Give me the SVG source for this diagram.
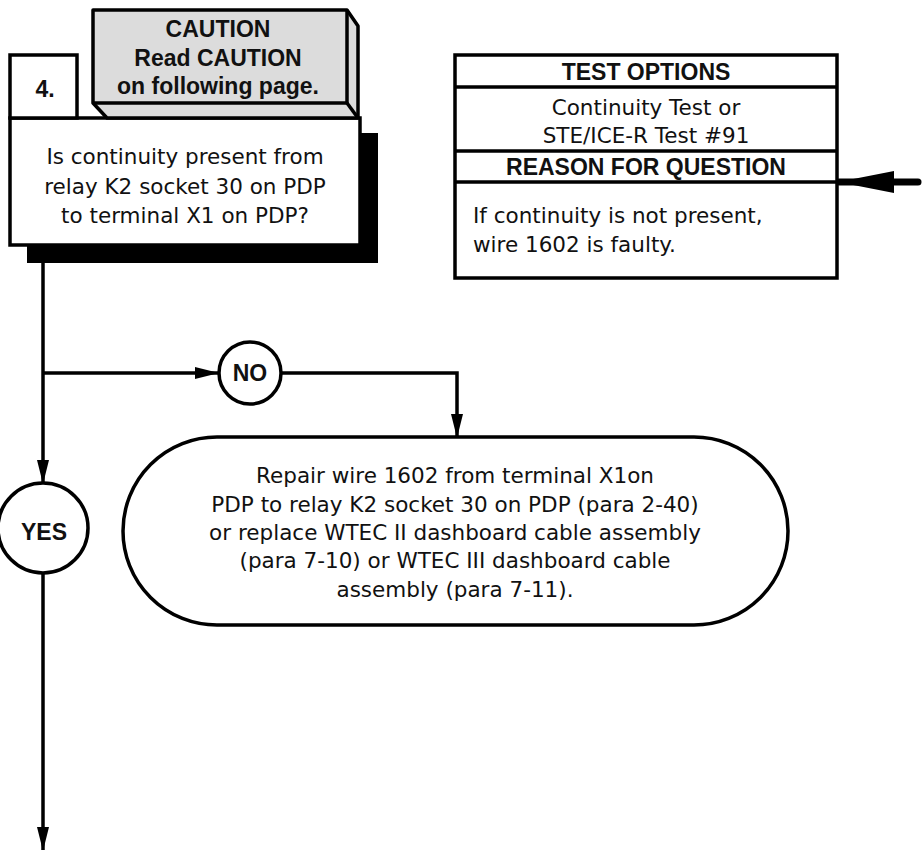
<svg xmlns="http://www.w3.org/2000/svg" width="922" height="850" viewBox="0 0 922 850">
<defs>
<style>
.t{font-family:"DejaVu Sans","Liberation Sans",Arial,sans-serif;font-size:21.5px;fill:#111;}
.b{font-family:"Liberation Sans",Arial,sans-serif;font-size:23px;font-weight:bold;fill:#111;}
.m{text-anchor:middle;}
.box{fill:#fff;stroke:#000;stroke-width:3.5;}
.ln{fill:none;stroke:#000;stroke-width:3.5;}
</style>
<marker id="ah" markerWidth="24" markerHeight="12" refX="23" refY="6" orient="auto" markerUnits="userSpaceOnUse">
<path d="M0,0 L24,6 L0,12 Z" fill="#000"/>
</marker>
<marker id="ahb" markerWidth="56" markerHeight="24" refX="55" refY="12" orient="auto" markerUnits="userSpaceOnUse">
<path d="M0,1 L56,12 L0,23 Z" fill="#000"/>
</marker>
</defs>
<g id="connectors">
<line class="ln" x1="43" y1="263" x2="43" y2="483" marker-end="url(#ah)"/>
<line class="ln" x1="43" y1="573" x2="43" y2="850" marker-end="url(#ah)"/>
<line class="ln" x1="43" y1="373" x2="218" y2="373" marker-end="url(#ah)"/>
<polyline class="ln" points="281,373 457,373 457,437" marker-end="url(#ah)"/>
<line x1="918" y1="182" x2="839" y2="182" stroke="#000" stroke-width="7" stroke-linecap="round" marker-end="url(#ahb)"/>
</g>
<g id="step4">
<rect x="27" y="133" width="351" height="130" fill="#000"/>
<rect class="box" x="10" y="118" width="350" height="127"/>
<text class="t m" x="185" y="164">Is continuity present from</text>
<text class="t m" x="185" y="194">relay K2 socket 30 on PDP</text>
<text class="t m" x="185" y="223">to terminal X1 on PDP?</text>
</g>
<g id="num">
<rect class="box" x="10" y="55" width="67" height="63"/>
<text class="b m" x="45" y="97">4.</text>
</g>
<g id="caution">
<polygon points="93,10 347,10 358,26 358,118 107,118 93,103" fill="#dcdcdc" stroke="#000" stroke-width="3.5" stroke-linejoin="round"/>
<polyline points="93,103 347,103 347,10" fill="none" stroke="#000" stroke-width="3.5"/>
<line x1="347" y1="103" x2="358" y2="118" stroke="#000" stroke-width="3.5"/>
<text class="b m" x="218" y="37">CAUTION</text>
<text class="b m" x="218" y="66">Read CAUTION</text>
<text class="b m" x="218" y="94">on following page.</text>
</g>
<g id="test-options">
<rect class="box" x="455" y="55" width="382" height="223"/>
<line class="ln" x1="455" y1="87" x2="837" y2="87"/>
<line class="ln" x1="455" y1="151" x2="837" y2="151"/>
<line class="ln" x1="455" y1="182" x2="837" y2="182"/>
<text class="b m" x="646" y="80">TEST OPTIONS</text>
<text class="t m" x="646" y="115">Continuity Test or</text>
<text class="t m" x="646" y="143">STE/ICE-R Test #91</text>
<text class="b m" x="646" y="175">REASON FOR QUESTION</text>
<text class="t" x="473" y="223">If continuity is not present,</text>
<text class="t" x="473" y="252">wire 1602 is faulty.</text>
</g>
<g id="no">
<circle cx="250" cy="373" r="31" fill="#fff" stroke="#000" stroke-width="3.5"/>
<text class="b m" x="250" y="381">NO</text>
</g>
<g id="yes">
<circle cx="43" cy="528" r="45" fill="#fff" stroke="#000" stroke-width="3.5"/>
<text class="b m" x="44" y="540">YES</text>
</g>
<g id="repair">
<rect class="box" x="123" y="437" width="665" height="188" rx="94" ry="94"/>
<text class="t m" x="455" y="483">Repair wire 1602 from terminal X1on</text>
<text class="t m" x="455" y="512">PDP to relay K2 socket 30 on PDP (para 2-40)</text>
<text class="t m" x="455" y="540">or replace WTEC II dashboard cable assembly</text>
<text class="t m" x="455" y="568">(para 7-10) or WTEC III dashboard cable</text>
<text class="t m" x="455" y="597">assembly (para 7-11).</text>
</g>
</svg>
